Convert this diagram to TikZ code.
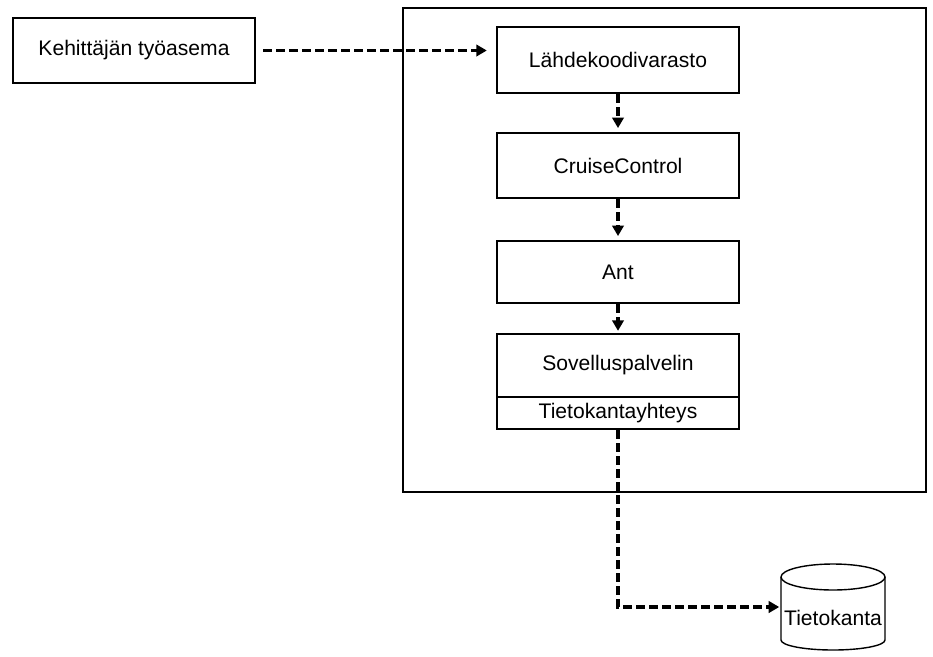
\documentclass[tikz,border=0pt]{standalone}
\usepackage{fontspec}
\setmainfont{Liberation Sans}
\usetikzlibrary{arrows.meta}

\begin{document}
\begin{tikzpicture}[x=0.02cm, y=-0.02cm,
    box/.style={draw, line width=1.6pt, minimum width=4.84cm, inner sep=0pt,
        font=\fontsize{12}{14}\selectfont},
    flow/.style={line width=1.8pt, dash pattern=on 5pt off 2.4pt,
        -{Triangle[length=6pt,width=6.5pt]}}]
    \useasboundingbox (0,0) rectangle (933,656);

    % developer workstation
    \node[box, minimum height=1.3cm] (dev) at (134,50.5) {Kehittäjän työasema};

    % build server with its components
    \draw[line width=1.6pt] (403,8) rectangle (926,492);
    \node[box, minimum height=1.32cm] (repo) at (618,60) {Lähdekoodivarasto};
    \node[box, minimum height=1.3cm] (cc) at (618,165.5) {CruiseControl};
    \node[box, minimum height=1.24cm] (ant) at (618,272) {Ant};
    \node[box, minimum height=1.26cm] (app) at (618,365.5) {Sovelluspalvelin};
    \node[box, minimum height=0.64cm] (conn) at (618,413) {Tietokantayhteys};

    % database
    \draw[line width=0.8pt] (781,577) -- (781,640)
        arc[start angle=180, end angle=0, x radius=52, y radius=10] -- (885,577);
    \draw[line width=0.8pt] (833,577) ellipse [x radius=52, y radius=13];
    \node[font=\fontsize{12}{14}\selectfont, inner sep=0pt] (db) at (833,618) {Tietokanta};
    \coordinate (dbin) at (781,607);

    % connectors
    \draw[flow, shorten <=4pt, shorten >=5pt] (dev) -- (dev -| repo.west);
    \draw[flow, shorten >=2pt] (repo) -- (cc);
    \draw[flow, shorten >=2pt] (cc) -- (ant);
    \draw[flow, shorten >=1pt] (ant) -- (app);
    \draw[flow, shorten >=1pt] (conn.south) |- (dbin);
\end{tikzpicture}
\end{document}
